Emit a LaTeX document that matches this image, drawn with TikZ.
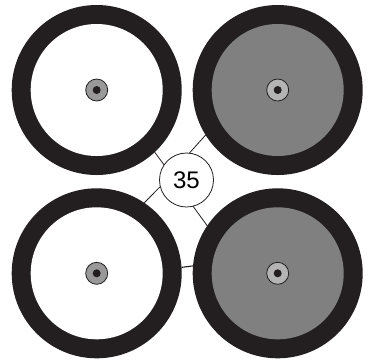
\documentclass[tikz,border=0pt]{standalone}
\usepackage{fontspec}
\setmainfont{Liberation Sans}
\definecolor{ringblack}{HTML}{231F20}
\definecolor{diskgray}{HTML}{808080}
\definecolor{hubdark}{HTML}{999999}
\definecolor{hublight}{HTML}{B4B4B4}
\begin{document}
\begin{tikzpicture}[x=1pt,y=-1pt,
  ring/.style={circle,fill=ringblack,draw=none,minimum size=170pt,inner sep=0pt,outer sep=0pt},
  diskwhite/.style={circle,fill=white,draw=none,minimum size=132pt,inner sep=0pt},
  diskgrey/.style={circle,fill=diskgray,draw=none,minimum size=132pt,inner sep=0pt},
  hub/.style={circle,draw=ringblack,line width=0.8pt,minimum size=22pt,inner sep=0pt},
  dot/.style={circle,fill=ringblack,draw=none,minimum size=8pt,inner sep=0pt},
  label/.style={circle,draw=ringblack,fill=white,line width=0.8pt,minimum size=54pt,inner sep=0pt,outer sep=0pt,font=\fontsize{24}{28}\selectfont},
  link/.style={draw=ringblack,line width=0.8pt}]
\useasboundingbox (0,0) rectangle (377,360);
% rings
\node[ring] (tl) at (96.7,90) {};
\node[ring] (tr) at (277.7,90) {};
\node[ring] (bl) at (96.7,273.3) {};
\node[ring] (br) at (277.7,273.3) {};
% inner disks
\node[diskwhite] (tli) at (tl) {};
\node[diskgrey] (tri) at (tr) {};
\node[diskwhite] (bli) at (bl) {};
\node[diskgrey] (bri) at (br) {};
% hubs
\node[hub,fill=hubdark] (tlh) at (tl) {};
\node[hub,fill=hublight] (trh) at (tr) {};
\node[hub,fill=hubdark] (blh) at (bl) {};
\node[hub,fill=hublight] (brh) at (br) {};
\node[dot] (tld) at (tl) {};
\node[dot] (trd) at (tr) {};
\node[dot] (bld) at (bl) {};
\node[dot] (brd) at (br) {};
% centre label
\node[label] (c) at (186.5,180) {35};
% connectors
\draw[link] (c.146) -- (tl.313);
\draw[link] (c.84) -- (tr.212);
\draw[link] (c.194) -- (bl.56);
\draw[link] (c.284) -- (br.146);
\draw[link,line width=1.1pt] (bl.4.5) -- (br.175.5);
\end{tikzpicture}
\end{document}
